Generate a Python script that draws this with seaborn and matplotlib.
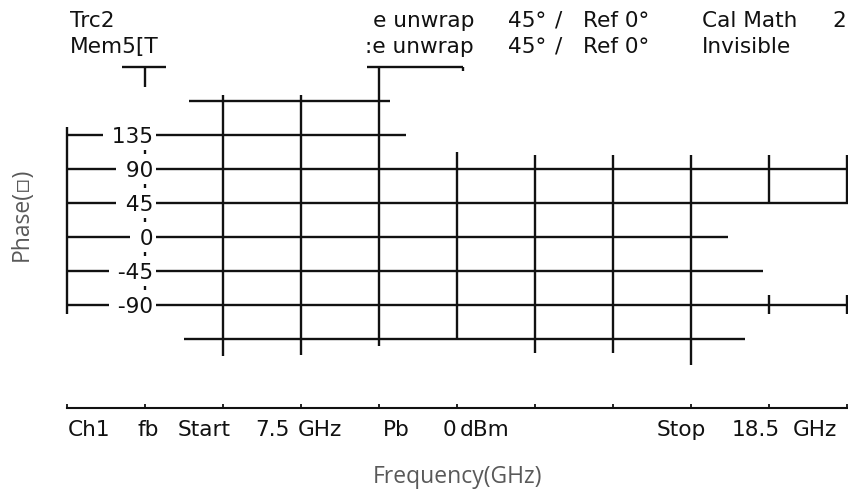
import numpy as np
import pandas as pd
import matplotlib
matplotlib.use("Agg")
import matplotlib.pyplot as plt
import seaborn as sns

# ---------------- data ----------------
freq_start, freq_stop = 7.5, 18.5
div_freqs = [7.5, 8.6, 9.7, 10.8, 11.9, 13.0, 14.1, 15.2, 16.3, 17.4, 18.5]
phase_levels = [135, 90, 45, 0, -45, -90]
phase_labels = ["135", "90", "45", "0", "-45", "-90"]

# horizontal trace segments (phase, start freq, end freq)
h_phase = [225, 225, 180, 135, 90, 45, 0, -45, -90, -135]
h_start = [8.28, 11.73, 9.23, 7.5, 7.5, 7.5, 7.5, 7.5, 7.5, 9.16]
h_end = [8.90, 13.09, 12.06, 12.28, 18.52, 18.52, 16.82, 17.31, 18.52, 17.06]

# vertical trace segments (freq, top phase, bottom phase)
v_freq = [7.5, 8.6, 9.7, 10.8, 11.9, 13.0, 13.09, 14.1, 15.2, 16.3, 17.4, 17.4, 18.5, 18.5]
v_top = [146, 225, 189, 189, 225, 113, 225, 109, 109, 109, 109, -76, 109, -76]
v_bot = [-101, 199, -157, -156, -144, -135, 220, -153, -153, -169, 45, -101, 45, -101]

# dotted marker column
dot_freq = 8.6
dot_phase = [112.5, 67.5, 22.5, -22.5, -67.5]

top_texts = ["Trc2", "e unwrap", "45°", "/", "Ref 0°", "Cal Math", "2",
             "Mem5[T", ":e unwrap", "45°", "/", "Ref 0°", "Invisible"]
bottom_texts = ["Ch1", "fb", "Start", "7.5", "GHz", "Pb", "0", "dBm",
                "Stop", "18.5", "GHz"]

# ---------------- build segment table ----------------
rows = []
sid = 0
for p, a, b in zip(h_phase, h_start, h_end):
    rows += [(sid, a, p), (sid, b, p)]
    sid += 1
for f, t, b in zip(v_freq, v_top, v_bot):
    rows += [(sid, f, t), (sid, f, b)]
    sid += 1
for p in dot_phase:
    rows += [(sid, dot_freq, p + 2.6), (sid, dot_freq, p - 2.6)]
    sid += 1
df = pd.DataFrame(rows, columns=["seg", "freq", "phase"])

# ---------------- figure ----------------
sns.set_style("white")
W, H = 848, 490
fig = plt.figure(figsize=(W / 100, H / 100), dpi=100)
ax = fig.add_axes([66.7 / W, (H - 407.7) / H, (W - 66.7) / W, 407.7 / H])

ink = "#111111"
sns.lineplot(data=df, x="freq", y="phase", units="seg", estimator=None,
             sort=False, color=ink, linewidth=1.7, legend=False, ax=ax)
for ln in ax.lines:
    ln.set_clip_on(False)
    ln.set_solid_capstyle("butt")

ax.set_xlim(7.5, 18.51)
ax.set_ylim(-225.5, 314.1)

for s in ["top", "right", "left"]:
    ax.spines[s].set_visible(False)
ax.spines["bottom"].set_color(ink)
ax.spines["bottom"].set_linewidth(1.5)
ax.set_xticks(div_freqs)
ax.set_yticks([])
ax.tick_params(axis="x", direction="in", length=3, width=1.3, color=ink,
               labelbottom=False, bottom=True)

vna_font = dict(family="DejaVu Sans", fontsize=15.6, color=ink)

# phase labels of the analyzer grid
for lvl, lab in zip(phase_levels, phase_labels):
    ax.text(8.72, lvl, " " + lab, ha="right", va="center_baseline",
            bbox=dict(boxstyle="square,pad=0.12", fc="white", ec="none"),
            zorder=5, **vna_font)

# analyzer annotation text (figure pixel layout)
top_pos = [(70, 27), (373, 27), (508, 27), (555, 27), (583, 27), (702, 27), (832, 27),
           (70, 53), (365, 53), (508, 53), (555, 53), (583, 53), (702, 53)]
for s, (x, y) in zip(top_texts, top_pos):
    fig.text(x / W, 1 - y / H, s, ha="left", va="baseline", **vna_font)
bot_pos = [68, 137, 178, 255, 298, 383, 443, 460, 657, 732, 793]
for s, x in zip(bottom_texts, bot_pos):
    fig.text(x / W, 1 - 436 / H, s, ha="left", va="baseline", **vna_font)

lab_font = dict(family=["Open Sans", "DejaVu Sans"], fontsize=16.5, color="#595959")
ax.set_xlabel("Frequency(GHz)", **lab_font)
ax.set_ylabel("Phase(\u25ab)", **lab_font)
ax.xaxis.set_label_coords(0.5, -(465 - 407.7) / 407.7)
ax.yaxis.set_label_coords(-(66.7 - 34) / (W - 66.7), (407.7 - 214) / 407.7)

fig.savefig("out.png", dpi=100, facecolor="white")
